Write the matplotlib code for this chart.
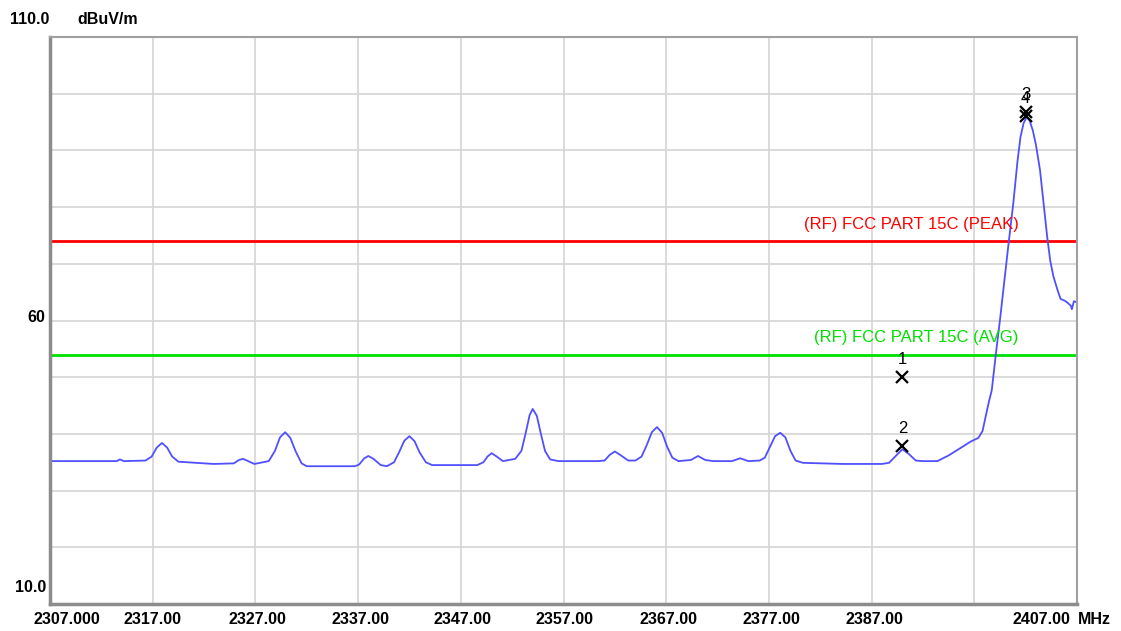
import matplotlib
matplotlib.use("Agg")
import matplotlib.pyplot as plt

# trace (MHz, dBuV/m)
freq = [2307.0, 2313.5, 2313.8, 2314.2, 2316.3, 2316.9, 2317.4, 2317.9, 2318.4, 2318.9,
        2319.5, 2322.9, 2324.9, 2325.4, 2325.8, 2326.3, 2326.9, 2328.3, 2328.9, 2329.4,
        2329.9, 2330.4, 2330.9, 2331.5, 2332.0, 2336.7, 2337.1, 2337.6, 2338.0, 2338.5,
        2339.2, 2339.8, 2340.5, 2341.0, 2341.5, 2342.0, 2342.5, 2343.0, 2343.6, 2344.2,
        2348.6, 2349.2, 2349.6, 2350.0, 2350.5, 2351.1, 2352.3, 2352.9, 2353.3, 2353.7,
        2354.0, 2354.4, 2354.8, 2355.2, 2355.7, 2356.5, 2360.3, 2361.0, 2361.5, 2362.0,
        2362.6, 2363.3, 2364.0, 2364.6, 2365.1, 2365.6, 2366.1, 2366.6, 2367.1, 2367.6,
        2368.2, 2369.4, 2370.1, 2370.8, 2371.6, 2373.4, 2374.2, 2375.0, 2376.1, 2376.6,
        2377.1, 2377.6, 2378.1, 2378.6, 2379.1, 2379.6, 2380.3, 2384.2, 2388.0, 2388.7,
        2389.3, 2390.0, 2390.6, 2391.3, 2392.0, 2393.4, 2394.5, 2395.3, 2396.0, 2396.6,
        2397.4, 2397.8, 2398.1, 2398.4, 2398.7, 2399.1, 2399.5, 2400.3, 2400.8, 2401.2,
        2401.5, 2401.8, 2402.1, 2402.4, 2402.7, 2403.0, 2403.4, 2404.1, 2404.4, 2404.7,
        2405.1, 2405.4, 2405.8, 2406.1, 2406.4, 2406.5, 2406.7, 2407.0]
level = [35.2, 35.2, 35.5, 35.2, 35.3, 36.0, 37.6, 38.4, 37.6, 36.0,
         35.1, 34.7, 34.8, 35.4, 35.6, 35.2, 34.7, 35.2, 37.0, 39.4,
         40.3, 39.3, 37.0, 34.8, 34.3, 34.3, 34.6, 35.7, 36.1, 35.6,
         34.5, 34.3, 35.0, 36.8, 38.8, 39.6, 38.7, 36.7, 35.0, 34.5,
         34.5, 35.0, 36.0, 36.6, 36.0, 35.2, 35.6, 37.0, 40.0, 43.3,
         44.4, 43.2, 40.0, 37.0, 35.5, 35.2, 35.2, 35.3, 36.3, 36.9,
         36.2, 35.3, 35.3, 36.0, 38.0, 40.3, 41.2, 40.2, 37.7, 35.8,
         35.2, 35.4, 36.1, 35.4, 35.2, 35.2, 35.7, 35.2, 35.3, 35.8,
         37.7, 39.6, 40.2, 39.4, 37.0, 35.3, 34.9, 34.7, 34.7, 34.9,
         36.0, 37.3, 36.5, 35.3, 35.2, 35.2, 36.2, 37.1, 37.9, 38.6,
         39.3, 40.5, 43.0, 45.5, 47.7, 54.1, 60.1, 73.0, 80.7, 88.0,
         92.4, 94.8, 95.9, 95.2, 93.5, 91.0, 86.5, 74.7, 70.5, 67.8,
         65.4, 63.8, 63.5, 63.1, 62.6, 62.0, 63.4, 63.2]

# limit lines
limit_names = ["(RF) FCC PART 15C (PEAK)", "(RF) FCC PART 15C (AVG)"]
limit_levels = [74.0, 54.0]
limit_colors = ["#ff0000", "#00e000"]

# markers
mk_labels = ["1", "2", "3", "4"]
mk_freq = [2390.0, 2390.0, 2402.0, 2402.0]
mk_level = [50.0, 37.9, 96.8, 96.1]

x_tick_labels = ["2307.000", "2317.00", "2327.00", "2337.00", "2347.00",
                 "2357.00", "2367.00", "2377.00", "2387.00"]
x_tick_px = [67, 153, 257, 360, 462, 565, 668, 771, 874]

plt.rcParams['font.family'] = ['Liberation Sans', 'DejaVu Sans']

W, H = 1121, 631
fig = plt.figure(figsize=(W / 100, H / 100), dpi=100)
ax = fig.add_axes([50 / W, 27 / H, 1027 / W, 567 / H])
ax.set_xlim(2307, 2407)
ax.set_ylim(10, 110)
ax.set_xticks(range(2307, 2408, 10))
ax.set_yticks(range(10, 111, 10))
ax.grid(True, color="#d4d4d4", lw=1.2)
ax.tick_params(length=0, labelbottom=False, labelleft=False)
ax.set_axisbelow(True)
for side in ["top", "right"]:
    ax.spines[side].set_color("#a0a0a0")
    ax.spines[side].set_linewidth(1.5)
for side in ["left", "bottom"]:
    ax.spines[side].set_color("#8c8c8c")
    ax.spines[side].set_linewidth(2.5)

for name, lv, c in zip(limit_names, limit_levels, limit_colors):
    ax.axhline(lv, color=c, lw=2)
    ax.text(2401.3, lv + 1.6, name, color=c, fontsize=12, ha="right", va="bottom")

ax.plot(freq, level, color="#5050ff", lw=1.3)

for lab, f, lv in zip(mk_labels, mk_freq, mk_level):
    ax.plot(f, lv, marker="x", color="black", ms=9, mew=1.6, ls="none")
    ax.annotate(lab, (f, lv), xytext=(0, 7), textcoords="offset points",
                ha="center", va="bottom", fontsize=12, color="black")

# axis texts
bold = dict(fontsize=11.5, fontweight="bold", color="black")
fig.text(10 / W, 1 - 20 / H, "110.0", ha="left", va="center", **bold)
fig.text(77 / W, 1 - 20 / H, "dBuV/m", ha="left", va="center", **bold)
fig.text(45 / W, 1 - 318 / H, "60", ha="right", va="center", **bold)
fig.text(46 / W, 1 - 588 / H, "10.0", ha="right", va="center", **bold)
for px, lab in zip(x_tick_px, x_tick_labels):
    fig.text(px / W, 1 - 619 / H, lab, ha="center", va="center", **bold)
fig.text(1070 / W, 1 - 619 / H, "2407.00", ha="right", va="center", **bold)
fig.text(1078 / W, 1 - 619 / H, "MHz", ha="left", va="center", **bold)

fig.savefig("out.png", dpi=100, facecolor="white")
